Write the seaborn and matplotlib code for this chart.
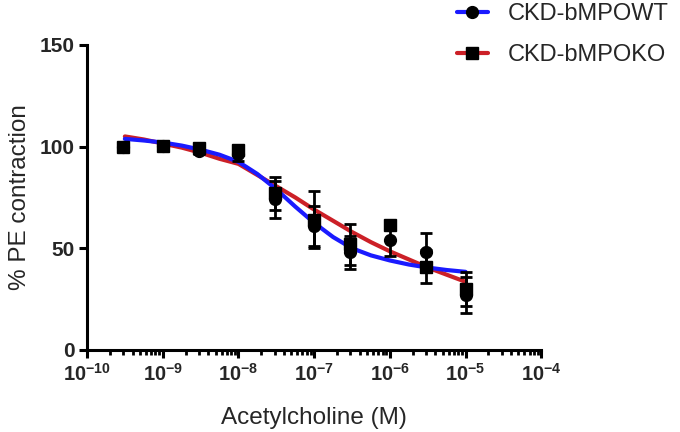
import numpy as np
import pandas as pd
import matplotlib
matplotlib.use('Agg')
import matplotlib.pyplot as plt
import seaborn as sns
from matplotlib.lines import Line2D
from matplotlib.ticker import LogLocator, FuncFormatter, NullFormatter

# concentrations (M) of the measured points
conc = [3e-10, 1e-9, 3e-9, 1e-8, 3e-8, 1e-7, 3e-7, 1e-6, 3e-6, 1e-5]

# CKD-bMPOWT: mean and SEM
wt_mean = [100, 100.5, 98, 96.5, 74, 61, 48, 54, 48, 27]
wt_sem = [0, 0, 1.5, 3.5, 9, 10, 8, 8, 9.5, 9]

# CKD-bMPOKO: mean and SEM
ko_mean = [100, 100.5, 99.5, 98.5, 77, 64, 52, 61.5, 41, 30]
ko_sem = [0, 0.5, 1, 2, 8, 14, 10, 1.5, 8, 8.5]

# fitted curves
curve_conc = [3.16e-10, 5.62e-10, 1e-9, 1.78e-9, 3.16e-9, 5.62e-9, 1e-8, 1.78e-8,
              3.16e-8, 5.62e-8, 1e-7, 1.78e-7, 3.16e-7, 5.62e-7, 1e-6, 1.78e-6,
              3.16e-6, 5.62e-6, 1e-5]
wt_fit = [103.8, 103, 102, 100.5, 98.5, 96, 92.5, 86.5, 79, 70.5, 62.5, 55.5,
          50, 46.5, 44, 42, 40.5, 39.3, 38.4]
ko_fit = [105, 103.5, 101.5, 99.5, 97, 94, 91.5, 86, 80.5, 75, 69, 63.5,
          58, 53, 48.5, 44.5, 40.5, 37, 33.5]

labels = ['CKD-bMPOWT', 'CKD-bMPOKO']
line_colors = ['#1a1aff', '#cc2027']

sns.set_style('ticks')
plt.rcParams['font.family'] = ['Liberation Sans', 'DejaVu Sans']
plt.rcParams['mathtext.fontset'] = 'custom'
plt.rcParams['mathtext.rm'] = 'Liberation Sans'
plt.rcParams['mathtext.bf'] = 'Liberation Sans:bold'

fig = plt.figure(figsize=(6.8, 4.32), dpi=100)
ax = fig.add_axes([0.128, 0.19, 0.668, 0.706])

curves = pd.DataFrame({'conc': curve_conc * 2,
                       'y': ko_fit + wt_fit,
                       'group': [labels[1]] * len(ko_fit) + [labels[0]] * len(wt_fit)})
sns.lineplot(data=curves, x='conc', y='y', hue='group',
             palette={labels[0]: line_colors[0], labels[1]: line_colors[1]},
             linewidth=3, ax=ax, legend=False, zorder=2)

ax.errorbar(conc, ko_mean, yerr=ko_sem, fmt='s', color='black', ms=8,
            capsize=4.5, capthick=2, elinewidth=2, zorder=3)
ax.errorbar(conc, wt_mean, yerr=wt_sem, fmt='o', color='black', ms=8.5,
            capsize=4.5, capthick=2, elinewidth=2, zorder=4)

ax.set_xscale('log')
ax.set_xlim(1e-10, 1e-4)
ax.set_ylim(0, 150)
ax.set_yticks([0, 50, 100, 150])
ax.xaxis.set_major_locator(LogLocator(base=10, numticks=10))
ax.xaxis.set_minor_locator(LogLocator(base=10, subs=np.arange(2, 10), numticks=20))
ax.xaxis.set_major_formatter(FuncFormatter(
    lambda v, p: r'$\mathbf{10^{%d}}$' % int(round(np.log10(v)))))
ax.xaxis.set_minor_formatter(NullFormatter())

sns.despine(ax=ax)
for s in ['left', 'bottom']:
    ax.spines[s].set_linewidth(2.2)
    ax.spines[s].set_color('black')
ax.tick_params(axis='both', which='major', length=6, width=2.2, color='black', pad=3)
ax.tick_params(axis='x', which='major', labelsize=14.5)
ax.tick_params(axis='y', which='major', labelsize=15)
ax.tick_params(axis='x', which='minor', length=3.5, width=2, color='black')
for t in ax.get_yticklabels():
    t.set_fontweight('bold')

ax.set_xlabel('Acetylcholine (M)', fontsize=17.5, labelpad=16)
ax.set_ylabel('% PE contraction', fontsize=17.5, labelpad=6)

handles = [Line2D([], [], color=line_colors[0], lw=3, marker='o', ms=8.5,
                  mfc='black', mec='black'),
           Line2D([], [], color=line_colors[1], lw=3, marker='s', ms=8,
                  mfc='black', mec='black')]
fig.legend(handles, labels, loc='upper left', bbox_to_anchor=(0.641, 1.042),
           frameon=False, fontsize=17, handlelength=1.3, handletextpad=0.85,
           labelspacing=0.82)

fig.savefig('out.png', dpi=100)
